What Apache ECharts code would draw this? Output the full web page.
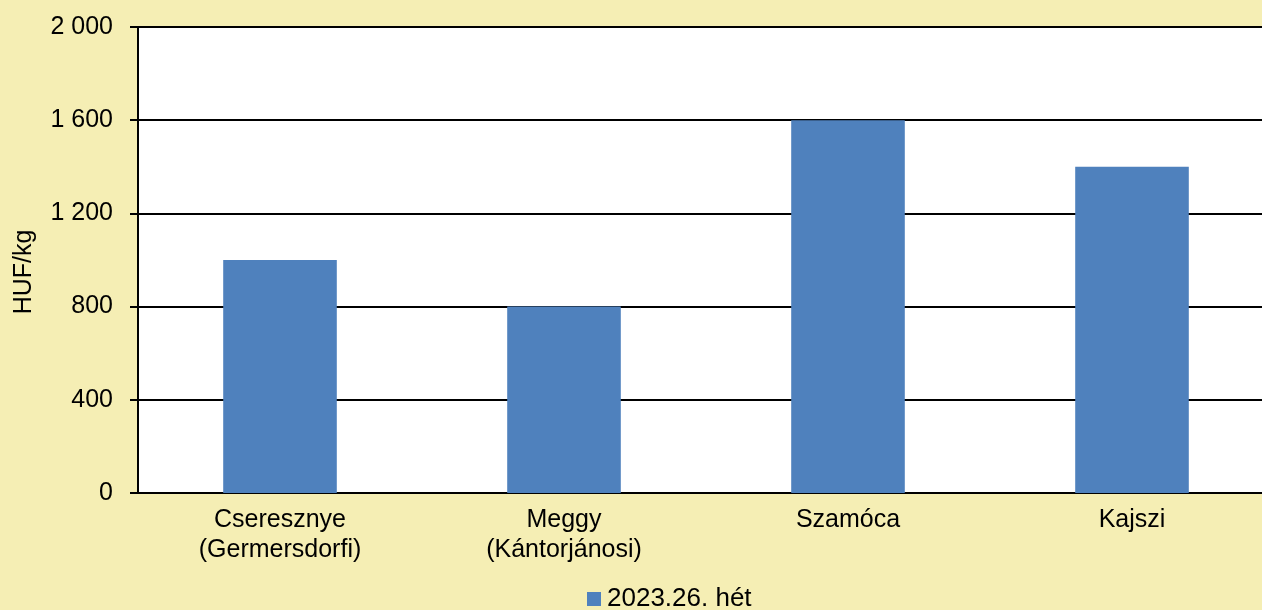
<!DOCTYPE html>
<html>
<head>
<meta charset="utf-8">
<script src="https://cdn.jsdelivr.net/npm/echarts@6/dist/echarts.min.js"></script>
<style>
html,body{margin:0;padding:0;background:#F5EEB4;overflow:hidden;}
#chart{width:1274px;height:610px;}
</style>
</head>
<body>
<div id="chart"></div>
<script>
var categories = ['Cseresznye\n(Germersdorfi)', 'Meggy\n(Kántorjánosi)', 'Szamóca', 'Kajszi'];
var prices = [1000, 800, 1600, 1400];
var seriesName = '2023.26. hét';
var yTitle = 'HUF/kg';

var myChart = echarts.init(document.getElementById('chart'));
var option = {
	backgroundColor: '#F5EEB4',
	textStyle: { fontFamily: 'Liberation Sans, Arial, sans-serif' },
	grid: {
		left: 138, right: 0, top: 27, bottom: 117,
		show: true, backgroundColor: '#ffffff', borderWidth: 0
	},
	graphic: [{
		type: 'text',
		x: 24, y: 272,
		rotation: Math.PI / 2,
		style: {
			text: yTitle, fill: '#000', fontSize: 25,
			fontFamily: 'Liberation Sans, Arial, sans-serif',
			align: 'center', verticalAlign: 'middle'
		}
	}],
	legend: {
		top: 584, left: 587,
		padding: 0,
		data: [seriesName],
		itemWidth: 14, itemHeight: 14, itemGap: 4,
		icon: 'rect',
		textStyle: { fontSize: 26, lineHeight: 30, color: '#000', padding: [0, 0, 0, 1] }
	},
	xAxis: {
		type: 'category',
		data: categories,
		axisLine: { lineStyle: { color: '#000', width: 2 } },
		axisTick: { show: false },
		axisLabel: { color: '#000', fontSize: 25, lineHeight: 30, margin: 12, interval: 0 }
	},
	yAxis: {
		type: 'value',
		min: 0, max: 2000, interval: 400,
		axisLine: { show: true, lineStyle: { color: '#000', width: 2 } },
		axisTick: { show: true, length: 8, lineStyle: { color: '#000', width: 2 } },
		splitLine: { lineStyle: { color: '#000', width: 2 } },
		axisLabel: {
			color: '#000', fontSize: 25, margin: 25,
			formatter: function (v) { return String(v).replace(/\B(?=(\d{3})+(?!\d))/g, ' '); }
		}
	},
	series: [{
		name: seriesName,
		type: 'bar',
		data: prices,
		barWidth: '40%',
		itemStyle: { color: '#4F81BD' }
	}]
};
myChart.setOption(option);
</script>
</body>
</html>
